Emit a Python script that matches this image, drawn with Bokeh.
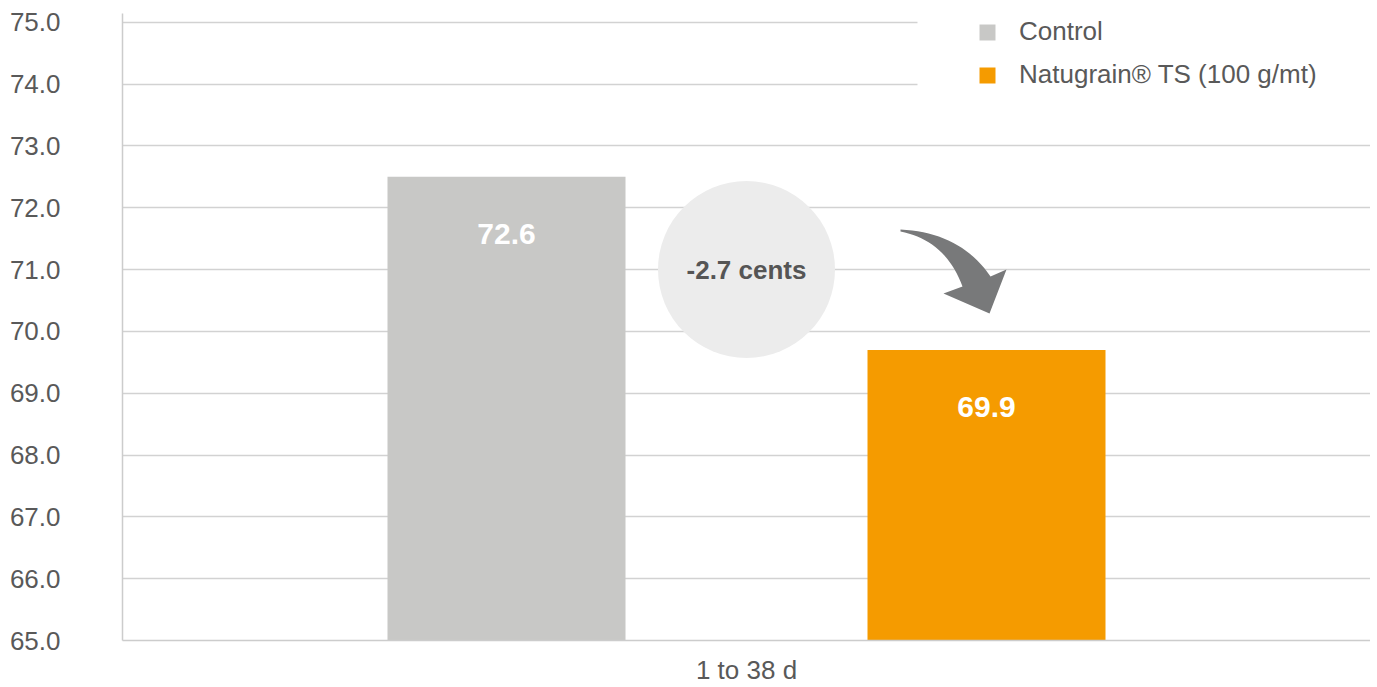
from bokeh.plotting import figure
from bokeh.models import Range1d, Legend, LegendItem, BoxAnnotation, FixedTicker, NumeralTickFormatter
from bokeh.core.properties import value
from bokeh.embed import file_html
from bokeh.resources import INLINE

# ---------------- data ----------------
period = ["1 to 38 d"]
series = ["Control", "Natugrain® TS (100 g/mt)"]
bar_values = [72.5, 69.7]
bar_labels = ["72.6", "69.9"]
difference_label = "-2.7 cents"
difference_y = 71.0
y_ticks = [65, 66, 67, 68, 69, 70, 71, 72, 73, 74, 75]
colors = ["#c8c8c6", "#f59b00"]

FONT = "Liberation Sans"
TXT = "#595959"

# frame geometry (picture pixels)
FL, FR, FT, FB = 122, 1370, 13, 640
W, H = 1370, 687
PX_PER_X = 1248
PX_PER_Y = 61.83

p = figure(width=W, height=H, output_backend="svg", toolbar_location=None,
           x_range=Range1d(0, (FR - FL) / PX_PER_X), y_range=Range1d(65, 65 + (FB - FT) / PX_PER_Y),
           min_border_left=FL, min_border_right=W - FR, min_border_top=FT,
           min_border_bottom=H - FB)
p.outline_line_color = None
p.background_fill_color = "white"

# axes
p.xaxis.ticker = FixedTicker(ticks=[0.5])
p.xaxis.major_label_overrides = {0.5: period[0]}
p.yaxis.ticker = FixedTicker(ticks=y_ticks)
p.yaxis.formatter = NumeralTickFormatter(format="0.0")
for ax in (p.xaxis[0], p.yaxis[0]):
    ax.axis_line_color = "#cccccc"
    ax.axis_line_width = 1.5
    ax.major_tick_line_color = None
    ax.minor_tick_line_color = None
    ax.major_tick_out = 0
    ax.major_tick_in = 0
    ax.major_label_text_font = FONT
    ax.major_label_text_font_size = "26px"
    ax.major_label_text_color = TXT
p.yaxis.major_label_standoff = 62
p.xaxis.major_label_standoff = 14
p.xgrid.grid_line_color = None
p.ygrid.grid_line_color = "#d2d2d2"
p.ygrid.grid_line_width = 1.5
p.ygrid.ticker = FixedTicker(ticks=y_ticks)

# bars
offset = 240 / PX_PER_X
bw = 238 / PX_PER_X
xs = [0.5 - offset, 0.5 + offset]
renderers = []
for i, s in enumerate(series):
    r = p.vbar(x=[xs[i]], top=[bar_values[i]], bottom=65, width=bw,
               fill_color=colors[i], line_color=None)
    renderers.append(r)

p.text(x=xs, y=bar_values, text=bar_labels, y_offset=57,
       text_align="center", text_baseline="middle",
       text_font=value(FONT), text_font_style="bold", text_font_size="30px",
       text_color="white")

# difference bubble
p.scatter(x=[0.5], y=[difference_y], marker="circle", size=177,
          fill_color="#ececec", line_color=None)
p.text(x=[0.5], y=[difference_y], text=[difference_label],
       text_align="center", text_baseline="middle",
       text_font=value(FONT), text_font_style="bold", text_font_size="26px",
       text_color="#555555")

# curved arrow (pixel design -> data coords)
def bez(p0, c, p1, n=20):
    pts = []
    for k in range(n + 1):
        t = k / n
        x = (1 - t) ** 2 * p0[0] + 2 * (1 - t) * t * c[0] + t ** 2 * p1[0]
        y = (1 - t) ** 2 * p0[1] + 2 * (1 - t) * t * c[1] + t ** 2 * p1[1]
        pts.append((x, y))
    return pts

top_edge = bez((900, 229), (960, 232), (990, 276))
bot_edge = bez((900, 231), (945, 240), (962, 286))
head = [(1006, 269), (989, 313), (943, 293)]
poly = top_edge + head + bot_edge[::-1]
ax_ = [(px - FL) / PX_PER_X for px, py in poly]
ay_ = [75 - (py - 21.7) / PX_PER_Y for px, py in poly]
p.patch(ax_, ay_, fill_color="#78797a", line_color=None)

# white area behind legend
p.add_layout(BoxAnnotation(left=(917 - FL) / PX_PER_X, bottom=73.5,
                           fill_color="white", fill_alpha=1, line_alpha=0,
                           level="underlay"))

legend = Legend(items=[LegendItem(label=s, renderers=[r]) for s, r in zip(series, renderers)],
                location=(977 - FL, FB - 90), padding=0, margin=0, spacing=12,
                glyph_width=20, glyph_height=20, label_standoff=22,
                label_text_font=FONT, label_text_font_size="26px",
                label_text_color=TXT, background_fill_alpha=0, border_line_alpha=0)
p.add_layout(legend)

open("out.html", "w").write(file_html(p, INLINE))
